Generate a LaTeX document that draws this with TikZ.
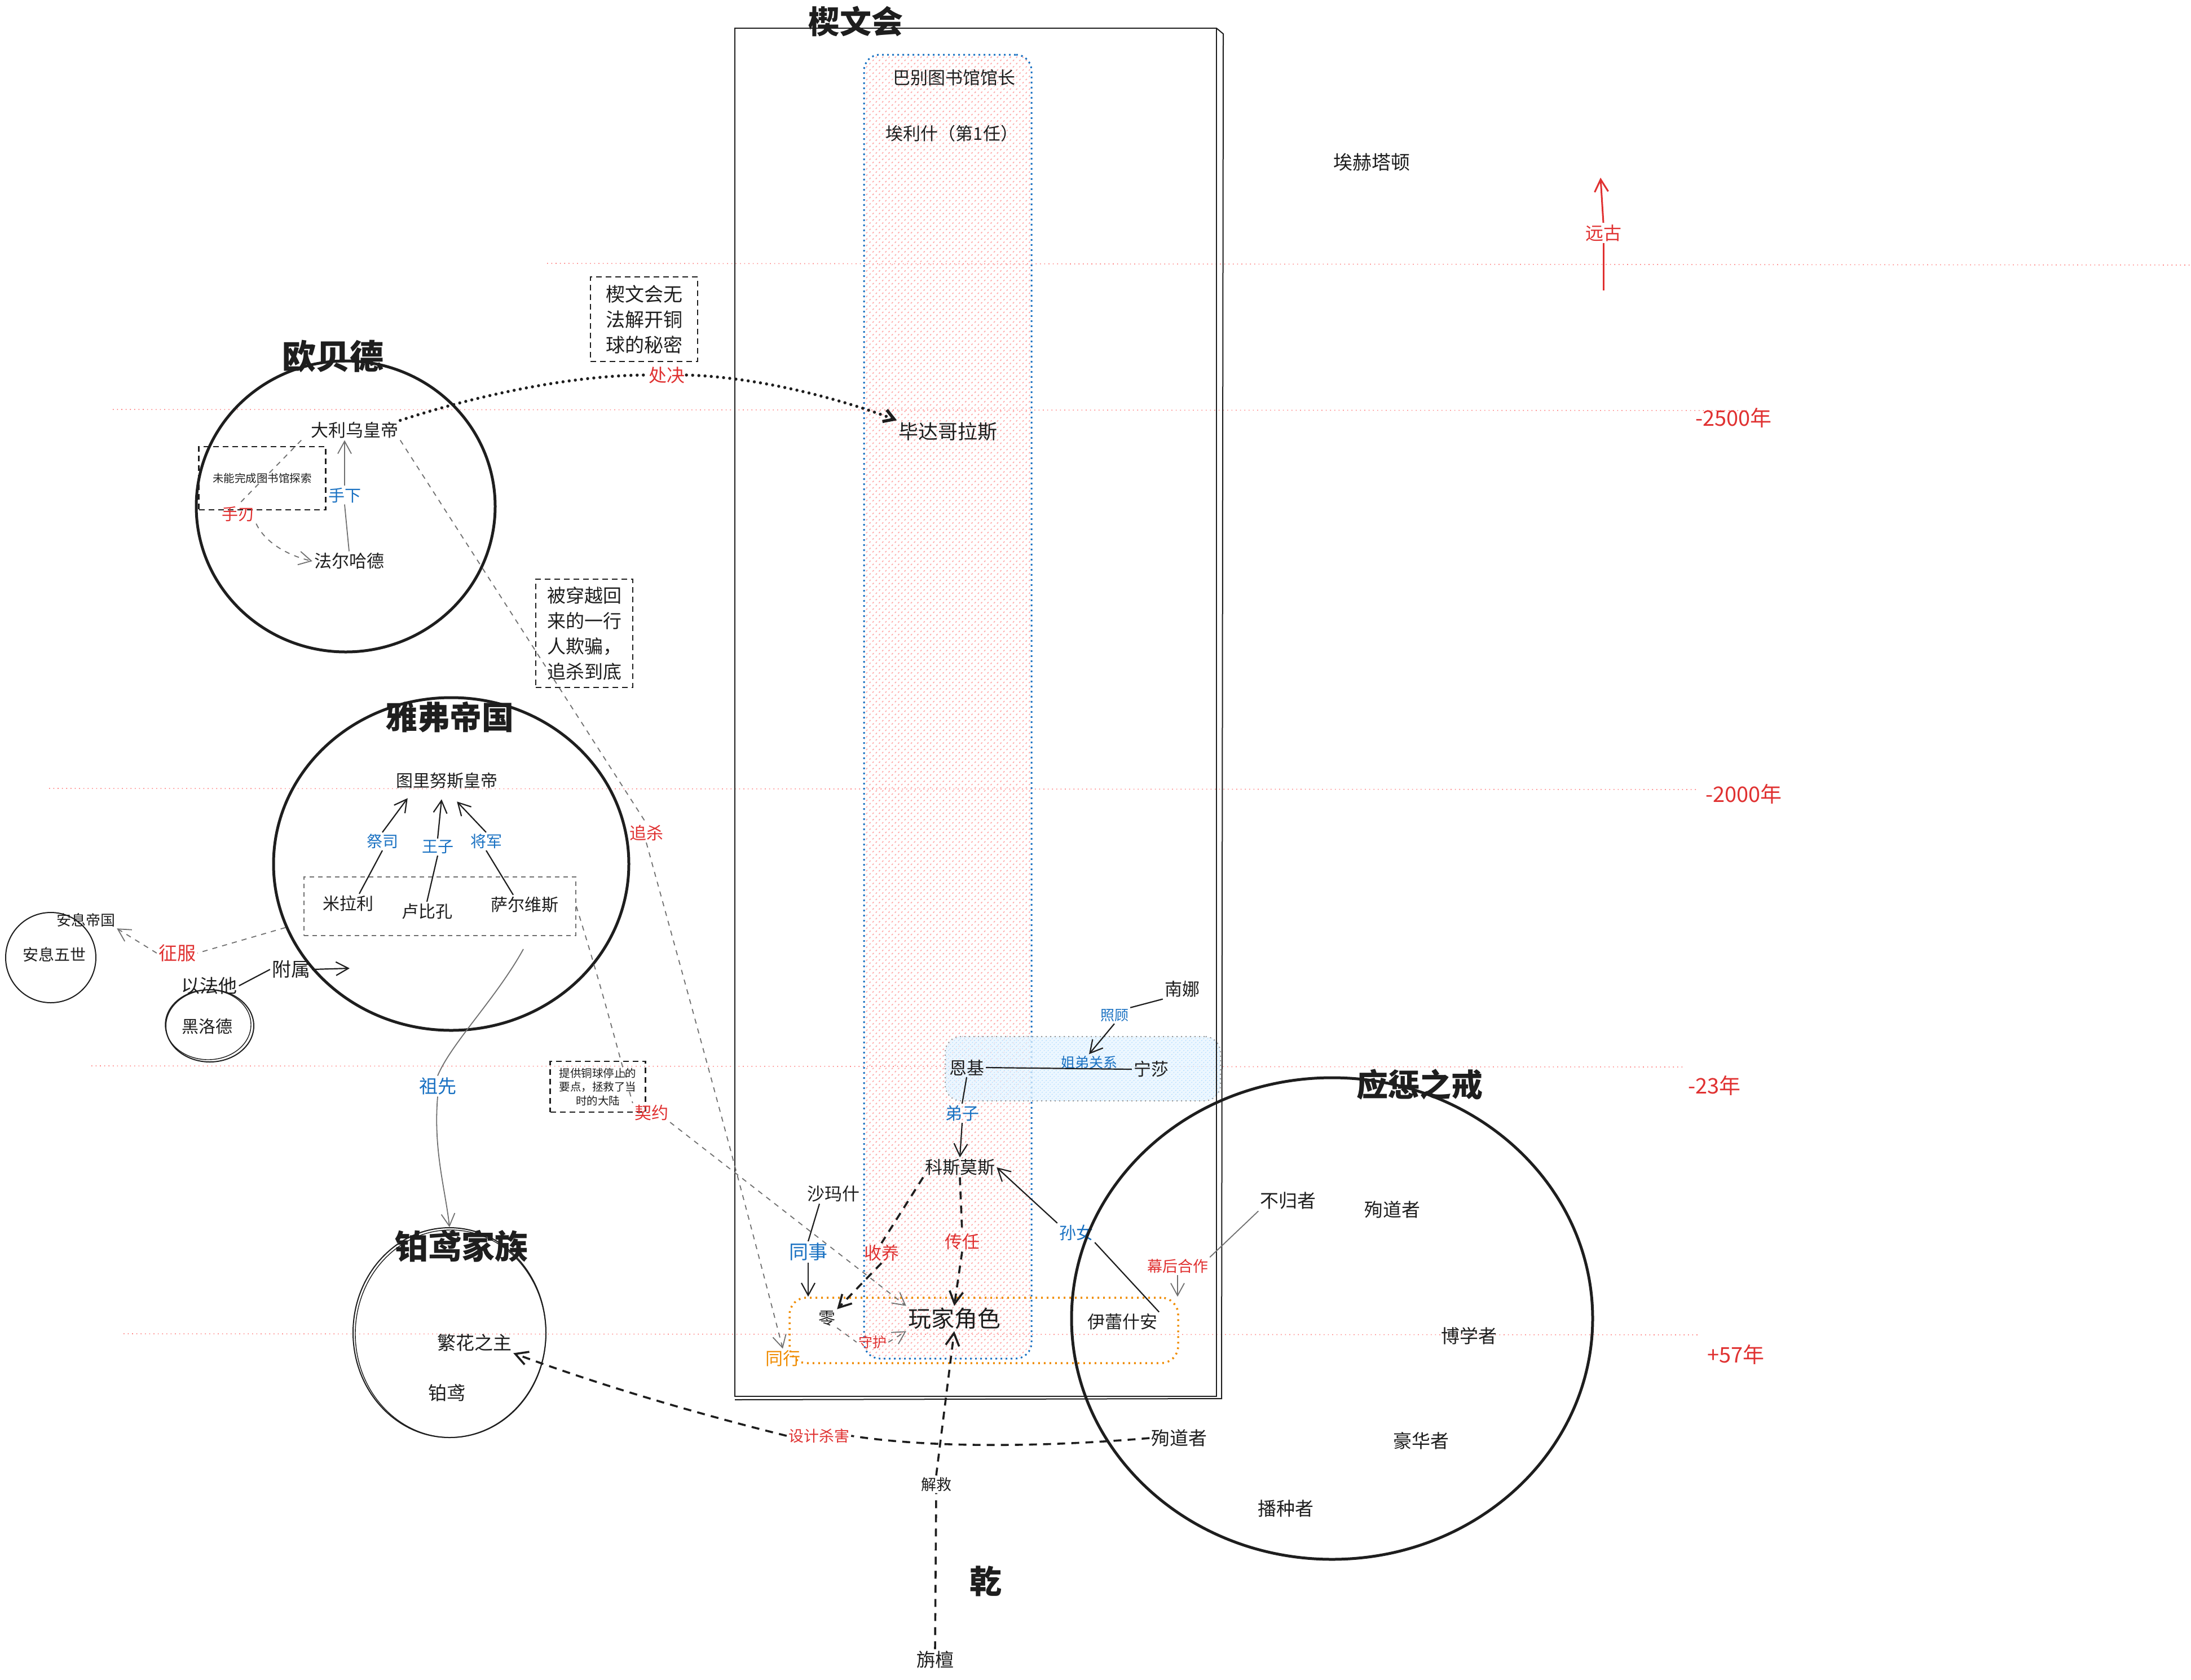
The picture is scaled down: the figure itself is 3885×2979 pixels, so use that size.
\documentclass[tikz,border=0pt]{standalone}
\usepackage{fontspec}
\setmainfont{Noto Sans CJK SC}
\usetikzlibrary{arrows.meta,shapes.geometric,patterns.meta}
\definecolor{ink}{HTML}{1E1E1E}
\definecolor{bl}{HTML}{1971C2}
\definecolor{rd}{HTML}{E03131}
\definecolor{og}{HTML}{F08C00}
\definecolor{gl}{HTML}{FF8787}
\definecolor{gr}{HTML}{707070}
\definecolor{pk}{HTML}{FFA8A8}
\definecolor{lb}{HTML}{E7F5FF}
\definecolor{lbb}{HTML}{A5D8FF}
\begin{document}
\begin{tikzpicture}[x=1pt,y=-1pt,
  every node/.append style={inner sep=3pt,text=ink},
  fs/.style={font=\fontsize{#1}{#1}\selectfont},
  ttl/.style={font=\fontsize{#1}{#1}\selectfont\bfseries},
  guideln/.style={draw=gl,line width=1.6pt,dash pattern=on 1.6pt off 6pt},
  grayline/.style={draw=gr,line width=1.8pt},
  graydash/.style={draw=gr,line width=1.8pt,dash pattern=on 9pt off 9pt},
  inkline/.style={draw=ink,line width=2.2pt},
  thickdash/.style={draw=ink,line width=3.6pt,dash pattern=on 14pt off 11pt},
  dotline/.style={draw=ink,line width=5.5pt,line cap=round,dash pattern=on 0pt off 11pt},
  redline/.style={draw=rd,line width=3pt},
  arr/.style={-{Straight Barb[length=22pt,width=24pt]}},
  bigcirc/.style={draw=ink,line width=5pt,ellipse,inner sep=0pt},
  smallcirc/.style={draw=ink,line width=2pt,ellipse,inner sep=0pt},
  notebox/.style={draw=ink,line width=2.6pt,dash pattern=on 10pt off 7pt,align=center,inner sep=0pt},
  bluet/.style={text=bl},
  redt/.style={text=rd},
  oranget/.style={text=og}]
\useasboundingbox[fill=white] (0,0) rectangle (3885,2979);

% ---------- time guide lines ----------
\draw[guideln] (970,467) -- (3885,470);
\draw[guideln] (200,726) -- (3100,728);
\draw[guideln] (87,1398) -- (3010,1400);
\draw[guideln] (162,1890) -- (2985,1892);
\draw[guideln] (219,2365) -- (3010,2367);

% ---------- hatched column and group boxes ----------
\node[draw=bl,line width=3pt,dash pattern=on 3pt off 6pt,rounded corners=28pt,
      minimum width=297pt,minimum height=2312pt,inner sep=0pt,
      pattern={Lines[angle=45,distance=8pt,line width=1.6pt]},pattern color=pk] (column) at (1680.5,1253) {};
\node[draw=gray!80,line width=2pt,dash pattern=on 2pt off 6pt,rounded corners=28pt,
      minimum width=488pt,minimum height=114pt,inner sep=0pt,
      preaction={fill=lb,fill opacity=0.75},
      pattern={Lines[angle=45,distance=5pt,line width=0.8pt]},pattern color=lbb] (sisbox) at (1920,1895) {};
\node[draw=og,line width=3.5pt,dash pattern=on 3pt off 7pt,rounded corners=30pt,
      minimum width=689pt,minimum height=116pt,inner sep=0pt] (grp) at (1744.5,2359) {};

% ---------- 楔文会 frame ----------
\node[draw=ink,line width=2.5pt,minimum width=854pt,minimum height=2426pt,inner sep=0pt] (xwh) at (1730,1263) {};
\draw[ink,line width=2pt] (2157,50) -- (2169,60) -- (2166,2480) -- (1303,2482);
\node[ttl=56] (xwhtitle) at (1517,38) {楔文会};
\node[fs=31] (babel) at (1692,138) {巴别图书馆馆长};
\node[fs=31] (ailish) at (1688,237) {埃利什（第1任）};
\node[fs=35] (bida) at (1681,765) {毕达哥拉斯};

% ---------- right side labels ----------
\node[fs=34] (aihe) at (2432,288) {埃赫塔顿};
\node[fs=32,redt] (yuangu) at (2843,413) {远古};
\coordinate (yg1) at (2843,515);
\coordinate (yg2) at (2838,315);
\node[fs=38,redt] (y2500) at (3074,741) {-2500年};
\node[fs=38,redt] (y2000) at (3092,1408) {-2000年};
\node[fs=38,redt] (y23) at (3040,1925) {-23年};
\node[fs=38,redt] (y57) at (3078,2402) {+57年};

% ---------- 欧贝德 ----------
\node[bigcirc,minimum width=530pt,minimum height=516pt] (obd) at (613,898) {};
\node[ttl=60] (obdtitle) at (590,632) {欧贝德};
\node[fs=31] (darius) at (629,763) {大利乌皇帝};
\node[fs=31] (farh) at (619,995) {法尔哈德};
\node[fs=29,bluet] (shouxia) at (611,878) {手下};
\node[notebox,fs=19.5,minimum width=225pt,minimum height=112pt] (note0) at (465,848) {未能完成图书馆探索};
\node[fs=29,redt] (shouren) at (422,912) {手刃};

% ---------- notes ----------
\node[notebox,font=\fontsize{34}{45}\selectfont,minimum width=190pt,minimum height=150pt] (note1) at (1142,566) {楔文会无\\法解开铜\\球的秘密};
\node[fs=32,redt] (chujue) at (1182,665) {处决};
\node[notebox,font=\fontsize{33}{45}\selectfont,minimum width=172pt,minimum height=192pt] (note2) at (1036,1123) {被穿越回\\来的一行\\人欺骗，\\追杀到底};
\node[fs=30,redt] (zhuisha) at (1146,1477) {追杀};

% ---------- 雅弗帝国 ----------
\node[bigcirc,minimum width=630pt,minimum height=590pt] (yafu) at (800,1532) {};
\node[ttl=57] (yafutitle) at (797,1272) {雅弗帝国};
\node[fs=30] (tulinus) at (792,1384) {图里努斯皇帝};
\node[draw=gr,line width=1.6pt,dash pattern=on 8pt off 7pt,minimum width=482pt,minimum height=104pt,inner sep=0pt] (members) at (780,1607) {};
\node[fs=30] (mila) at (617,1602) {米拉利};
\node[fs=30] (lubi) at (757,1616) {卢比孔};
\node[fs=30] (saer) at (930,1604) {萨尔维斯};
\node[fs=28,bluet] (jisi) at (678,1492) {祭司};
\node[fs=28,bluet] (wangzi) at (776,1502) {王子};
\node[fs=28,bluet] (jiangjun) at (862,1492) {将军};

% ---------- 安息 / 黑洛德 ----------
\node[smallcirc,minimum width=160pt,minimum height=160pt] (anxc) at (90,1698) {};
\node[fs=26] (anxiguo) at (152,1631) {安息帝国};
\node[fs=28] (anxiwu) at (96,1693) {安息五世};
\node[fs=33,redt] (zhengfu) at (314,1690) {征服};
\node[smallcirc,minimum width=156pt,minimum height=128pt] (hldc) at (372,1819) {};
\draw[ink,line width=1.4pt] (369,1817) ellipse[x radius=76pt,y radius=62pt];
\node[fs=30] (heiluode) at (367,1820) {黑洛德};
\node[fs=33] (yifata) at (371,1748) {以法他};
\node[fs=34] (fushu) at (516,1719) {附属};
\coordinate (fushuTip) at (620,1717);

% ---------- 铂鸢家族 ----------
\node[fs=33,bluet] (zuxian) at (776,1926) {祖先};
\coordinate (zxStart) at (928,1683);
\node[smallcirc,minimum width=342pt,minimum height=372pt] (byc) at (797,2363) {};
\draw[ink,line width=1.4pt] (799,2365) ellipse[x radius=169pt,y radius=184pt];
\node[ttl=59] (bytitle) at (818,2210) {铂鸢家族};
\node[fs=33] (fanhua) at (841,2381) {繁花之主};
\node[fs=33] (boyuan) at (792,2470) {铂鸢};
\node[notebox,font=\fontsize{19.5}{24.5}\selectfont,minimum width=169pt,minimum height=90pt] (note3) at (1060,1927) {提供铜球停止的\\要点，拯救了当\\时的大陆};
\node[fs=30,redt] (qiyue) at (1155,1973) {契约};

% ---------- center lower ----------
\node[fs=31] (nanna) at (2096,1754) {南娜};
\node[fs=25,bluet] (zhaogu) at (1976,1801) {照顾};
\node[fs=31] (enki) at (1714,1893) {恩基};
\node[fs=31] (ningsha) at (2041,1896) {宁莎};
\node[fs=25,bluet] (jiedi) at (1931,1884) {姐弟关系};
\node[fs=30,bluet] (dizi) at (1706,1974) {弟子};
\node[fs=31] (kosmos) at (1702,2070) {科斯莫斯};
\node[fs=31] (shamash) at (1478,2117) {沙玛什};
\node[fs=34,bluet] (tongshi) at (1433,2220) {同事};
\node[fs=31,redt] (shouyang) at (1563,2222) {收养};
\node[fs=31,redt] (chuanren) at (1706,2202) {传任};
\node[fs=30,bluet] (sunnv) at (1908,2186) {孙女};
\node[fs=27,redt] (muhou) at (2088,2245) {幕后合作};
\node[fs=31,oranget] (tongxing) at (1388,2409) {同行};
\node[fs=30] (ling) at (1466,2338) {零};
\node[fs=41] (player) at (1692,2338) {玩家角色};
\node[fs=31] (yilei) at (1990,2344) {伊蕾什安};
\node[fs=25,redt] (shouhu) at (1547,2380) {守护};
\node[fs=27,redt] (sheji) at (1452,2546) {设计杀害};
\node[fs=27] (jiejiu) at (1660,2632) {解救};
\node[ttl=57] (qian) at (1748,2804) {乾};
\node[fs=33] (zhantan) at (1658,2943) {旃檀};

% ---------- 应惩之戒 ----------
\node[bigcirc,minimum width=924pt,minimum height=854pt] (ying) at (2362,2338) {};
\node[ttl=56] (yingtitle) at (2517,1923) {应惩之戒};
\node[fs=33] (bugui) at (2284,2129) {不归者};
\node[fs=33] (xundaoA) at (2469,2145) {殉道者};
\node[fs=33] (boxue) at (2605,2369) {博学者};
\node[fs=33] (haohua) at (2520,2555) {豪华者};
\node[fs=33] (bozhong) at (2280,2675) {播种者};
\node[fs=33] (xundaoB) at (2091,2550) {殉道者};

% ---------- connectors ----------
% 远古
\draw[redline] (yg1) -- (yuangu.south);
\draw[redline,arr] (yuangu.north) -- (yg2);
% 处决
\draw[dotline] (darius.north east) .. controls (880,690) and (1040,665) .. (chujue.west);
\draw[dotline,-{Straight Barb[length=18pt,width=22pt]}] (chujue.east) .. controls (1330,668) and (1470,700) .. (bida.north west);
% 手下
\draw[grayline] (farh.north) -- (shouxia.south);
\draw[grayline,arr] (shouxia.north) -- (darius.south -| shouxia.north);
% 手刃
\draw[graydash] ([xshift=-14pt]darius.south west) -- (shouren.north);
\draw[graydash,arr] (shouren.south east) .. controls (470,962) and (510,985) .. (farh.west);
% 追杀
\draw[graydash] (darius.south east) -- (zhuisha.north);
\draw[graydash,arr] (zhuisha.south) .. controls (1225,1780) and (1300,2050) .. (tongxing.north);
% 雅弗 internal
\draw[inkline] ([xshift=20pt]mila.north) -- (jisi.south);
\draw[inkline,arr] (jisi.north) -- ([xshift=24pt,yshift=-14pt]tulinus.south west);
\draw[inkline] (lubi.north) -- (wangzi.south);
\draw[inkline,arr] (wangzi.north) -- ([xshift=-9pt,yshift=-16pt]tulinus.south);
\draw[inkline] ([xshift=-20pt]saer.north) -- (jiangjun.south);
\draw[inkline,arr] (jiangjun.north) -- ([xshift=-75pt,yshift=-20pt]tulinus.south east);
% 征服
\draw[graydash] (yafu.201) -- (zhengfu.east);
\draw[graydash,arr] (zhengfu.west) -- (anxiguo.south east);
% 附属
\draw[inkline] (yifata.east) -- (fushu.west);
\draw[inkline,arr] (fushu.east) -- (fushuTip);
% 祖先
\draw[grayline] (zxStart) .. controls (880,1770) and (800,1850) .. (zuxian.north);
\draw[grayline,arr] (zuxian.south) .. controls (768,2040) and (790,2110) .. (byc.north);
% 契约
\draw[graydash] (members.east) .. controls (1070,1760) and (1100,1880) .. (qiyue.north west);
\draw[graydash,arr] (qiyue.south east) -- (player.north west);
% 照顾
\draw[inkline] (nanna.south west) -- (zhaogu.north east);
\draw[inkline,arr] (zhaogu.south) -- (jiedi.north);
% 姐弟关系
\draw[inkline] (enki.east) -- (ningsha.west);
% 弟子
\draw[inkline] (enki.south) -- (dizi.north);
\draw[inkline,arr] (dizi.south) -- (kosmos.north);
% 收养
\draw[thickdash] (kosmos.south west) -- (shouyang.north);
\draw[thickdash,arr] (shouyang.south) -- (ling.north east);
% 传任
\draw[thickdash] (kosmos.south) -- (chuanren.north);
\draw[thickdash,arr] (chuanren.south) -- (player.north);
% 守护
\draw[graydash] (ling.south east) -- (shouhu.west);
\draw[graydash,arr] (shouhu.east) -- (player.south west);
% 解救
\draw[thickdash] (zhantan.north) -- (jiejiu.south);
\draw[thickdash,arr] (jiejiu.north) -- (player.south);
% 同事
\draw[inkline] ([xshift=-25pt]shamash.south) -- (tongshi.north);
\draw[inkline,arr] (tongshi.south) -- (tongshi.south |- grp.north);
% 孙女
\draw[inkline] (yilei.north east) -- (sunnv.south east);
\draw[inkline,arr] (sunnv.north west) -- (kosmos.east);
% 幕后合作
\draw[grayline] (bugui.south west) -- (muhou.north east);
\draw[grayline,arr] (muhou.south) -- (muhou.south |- grp.north);
% 设计杀害
\draw[thickdash] (xundaoB.west) .. controls (1850,2566) and (1650,2568) .. (sheji.east);
\draw[thickdash,arr] (sheji.west) .. controls (1250,2510) and (1080,2462) .. (fanhua.south east);
\end{tikzpicture}
\end{document}
